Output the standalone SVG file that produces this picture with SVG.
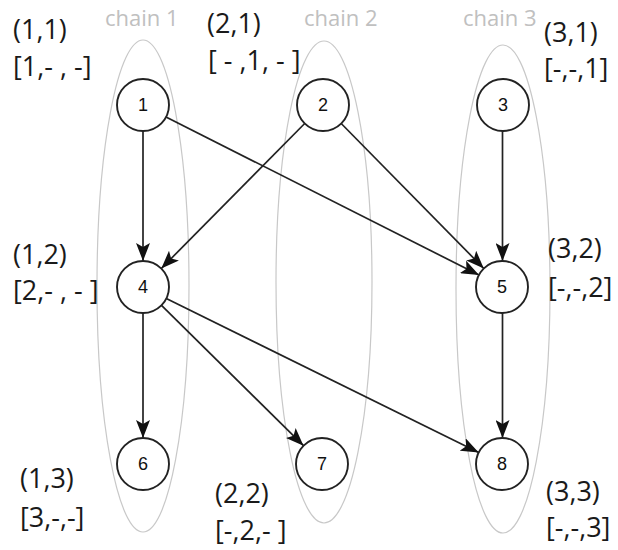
<svg xmlns="http://www.w3.org/2000/svg" width="618" height="550" viewBox="0 0 618 550">
<style>
.chain{fill:none;stroke:#c8c8c8;stroke-width:1.2}
.chainlbl{font-family:"Open Sans","Liberation Sans",sans-serif;font-size:22px;fill:#c0c0c0}
.lbl{font-family:"Open Sans","Liberation Sans",sans-serif;font-size:27px;fill:#1a1a1a}
.node circle{fill:#fff;stroke:#222;stroke-width:1.9}
.node text{font-family:"Liberation Sans","Arial",sans-serif;font-size:18px;fill:#111;text-anchor:middle}
.edge{stroke:#222;stroke-width:1.7;fill:none;marker-end:url(#arr)}
</style>
<defs>
<marker id="arr" markerUnits="userSpaceOnUse" markerWidth="19" markerHeight="14" refX="18" refY="7" orient="auto">
<path d="M0,0 L18,7 L0,14 L4,7 z" fill="#111"/>
</marker>
</defs>
<g id="chains">
<ellipse class="chain" cx="143" cy="286" rx="46" ry="246"/>
<ellipse class="chain" cx="324" cy="282" rx="48" ry="241"/>
<ellipse class="chain" cx="503" cy="289" rx="47" ry="244"/>
<text class="chainlbl" x="105" y="26">chain 1</text>
<text class="chainlbl" x="304" y="26">chain 2</text>
<text class="chainlbl" x="463" y="26">chain 3</text>
</g>
<g id="labels">
<text class="lbl" x="13" y="39">(1,1)</text>
<text class="lbl" x="13" y="76">[1,- , -]</text>
<text class="lbl" x="207" y="33">(2,1)</text>
<text class="lbl" x="208" y="70">[ - ,1, - ]</text>
<text class="lbl" x="544" y="42">(3,1)</text>
<text class="lbl" x="544" y="78">[-,-,1]</text>
<text class="lbl" x="13" y="264">(1,2)</text>
<text class="lbl" x="13" y="300">[2,- , - ]</text>
<text class="lbl" x="548" y="258">(3,2)</text>
<text class="lbl" x="548" y="297">[-,-,2]</text>
<text class="lbl" x="20" y="488">(1,3)</text>
<text class="lbl" x="20" y="527">[3,-,-]</text>
<text class="lbl" x="215" y="503">(2,2)</text>
<text class="lbl" x="215" y="540">[-,2,- ]</text>
<text class="lbl" x="546" y="501">(3,3)</text>
<text class="lbl" x="546" y="537">[-,-,3]</text>
</g>
<g id="connectors">
<line class="edge" x1="143" y1="131" x2="143" y2="261"/>
<line class="edge" x1="304.7" y1="123.5" x2="161.3" y2="268.5"/>
<line class="edge" x1="166" y1="117" x2="479" y2="275" stroke="#444"/>
<line class="edge" x1="341.2" y1="123.5" x2="483.8" y2="268.5"/>
<line class="edge" x1="502.5" y1="131" x2="502.5" y2="261"/>
<line class="edge" x1="143" y1="313" x2="143" y2="438"/>
<line class="edge" x1="161.5" y1="305.3" x2="303.5" y2="445.7"/>
<line class="edge" x1="166.3" y1="298.5" x2="478.7" y2="452.5"/>
<line class="edge" x1="502.5" y1="313" x2="502.5" y2="438"/>
</g>
<g id="n1" class="node"><circle cx="143" cy="105" r="26"/><text x="143" y="111">1</text></g>
<g id="n2" class="node"><circle cx="323" cy="105" r="26"/><text x="323" y="111">2</text></g>
<g id="n3" class="node"><circle cx="503" cy="105" r="26"/><text x="503" y="111">3</text></g>
<g id="n4" class="node"><circle cx="143" cy="287" r="26"/><text x="143" y="293">4</text></g>
<g id="n5" class="node"><circle cx="502" cy="287" r="26"/><text x="502" y="293">5</text></g>
<g id="n6" class="node"><circle cx="143" cy="464" r="26"/><text x="143" y="470">6</text></g>
<g id="n7" class="node"><circle cx="322" cy="464" r="26"/><text x="322" y="470">7</text></g>
<g id="n8" class="node"><circle cx="502" cy="464" r="26"/><text x="502" y="470">8</text></g>
</svg>
